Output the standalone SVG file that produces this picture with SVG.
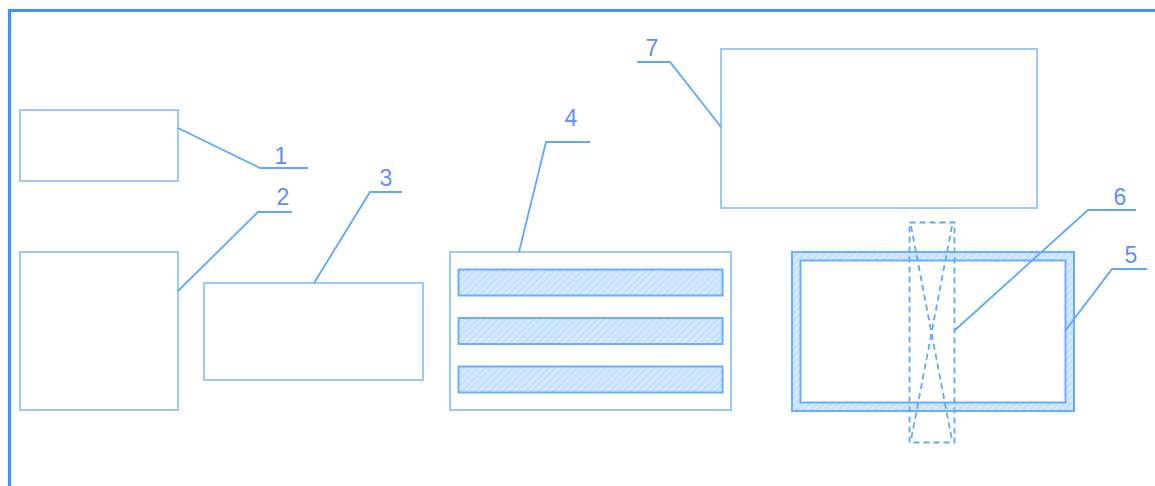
<svg xmlns="http://www.w3.org/2000/svg" width="1155" height="486" viewBox="0 0 1155 486">
<style>
.frame{fill:none;stroke:#3f93ff;stroke-width:3.2}
.box{fill:none;stroke:#99c9ff;stroke-width:2}
.lead{fill:none;stroke:#5ea8ff;stroke-width:1.8}
.lbl{font-family:"Liberation Sans",Arial,sans-serif;font-size:23px;fill:#5c90ff;text-anchor:middle}
.bar{fill:url(#hatch);stroke:#6aaeff;stroke-width:2}
.dash{fill:none;stroke:#5ea8ff;stroke-width:1.8;stroke-dasharray:6 4}
</style>
<defs>
<pattern id="hatch" patternUnits="userSpaceOnUse" width="5" height="5" patternTransform="rotate(45)">
<rect width="5" height="5" fill="#c8e2ff"/>
<line x1="0" y1="0" x2="0" y2="5" stroke="#edf6ff" stroke-width="1.5"/>
</pattern>
</defs>
<rect width="1155" height="486" fill="#ffffff"/>
<path class="frame" d="M9.5 486 V10.5 H1155"/>
<g id="node1"><rect class="box" x="20" y="110" width="158" height="71"/></g>
<g id="node2"><rect class="box" x="20" y="252" width="158" height="158"/></g>
<g id="node3"><rect class="box" x="204" y="283" width="219" height="97"/></g>
<g id="node4">
<rect class="box" x="450" y="252" width="281" height="158"/>
<rect class="bar" x="458.5" y="269.5" width="264" height="26"/>
<rect class="bar" x="458.5" y="318" width="264" height="26"/>
<rect class="bar" x="458.5" y="366.5" width="264" height="26"/>
</g>
<g id="node5">
<path d="M792 252 H1074 V411 H792 Z M800.5 260.5 V402.5 H1065.5 V260.5 Z" fill="url(#hatch)" fill-rule="evenodd" stroke="#6aaeff" stroke-width="2"/>
</g>
<g id="node6">
<rect class="dash" x="909.5" y="222.5" width="45" height="220"/>
<line class="dash" x1="911" y1="226" x2="952" y2="440"/>
<line class="dash" x1="952" y1="226" x2="911" y2="440"/>
</g>
<g id="node7"><rect class="box" x="721" y="49" width="316" height="159"/></g>
<g id="connectors">
<polyline class="lead" points="178,128 260,168 308,168"/>
<polyline class="lead" points="178,291 258,212 292,212"/>
<polyline class="lead" points="314,283 370,192 402,192"/>
<polyline class="lead" points="519,252 546,142 590,142"/>
<polyline class="lead" points="721,127 670,62 637,62"/>
<polyline class="lead" points="954,331 1088,210 1136,210"/>
<polyline class="lead" points="1065,331 1112,269 1147,269"/>
</g>
<g id="labels">
<text class="lbl" x="281" y="164">1</text>
<text class="lbl" x="283" y="205">2</text>
<text class="lbl" x="386" y="186">3</text>
<text class="lbl" x="571" y="126">4</text>
<text class="lbl" x="1131" y="263">5</text>
<text class="lbl" x="1120" y="205">6</text>
<text class="lbl" x="652" y="56">7</text>
</g>
</svg>
